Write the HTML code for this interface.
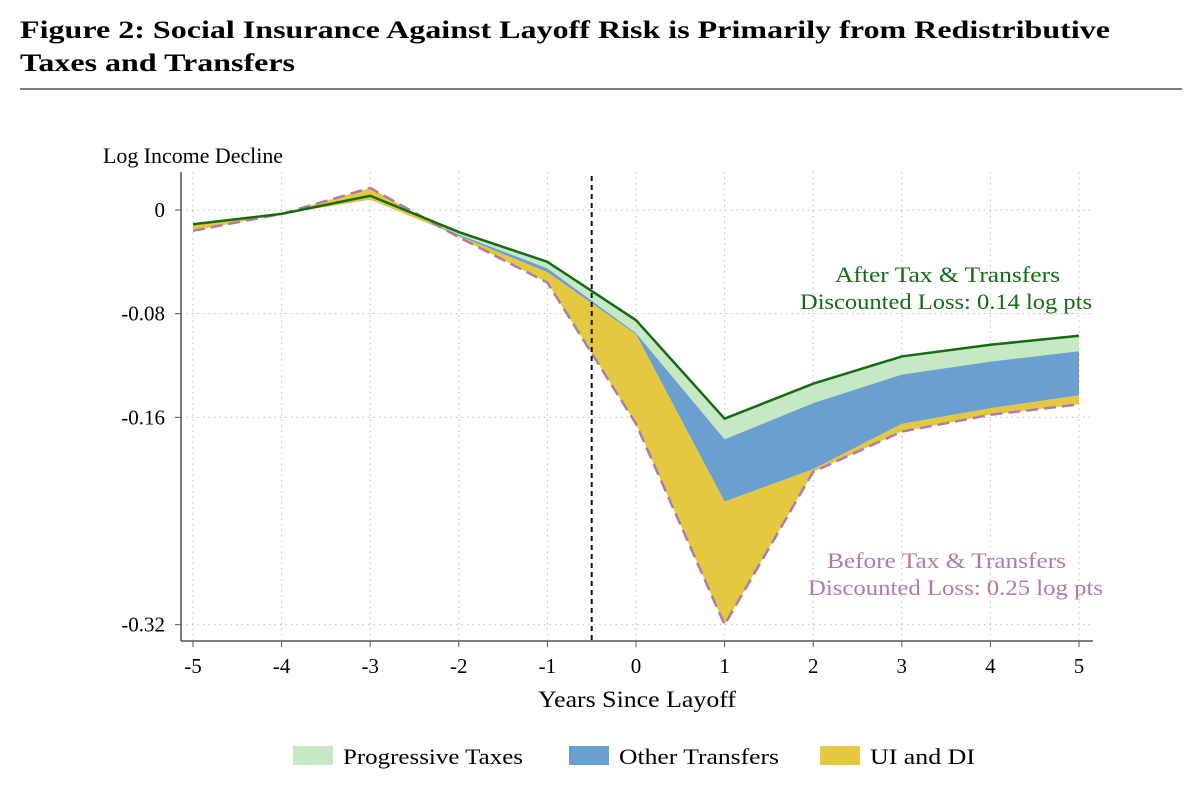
<!DOCTYPE html>
<html><head><meta charset="utf-8"><style>
body{margin:0;background:#fff;width:1200px;height:791px;overflow:hidden;font-family:"Liberation Serif",serif}
</style></head><body>
<svg width="1200" height="791" xmlns="http://www.w3.org/2000/svg">
<text x="20" y="38" font-size="25" font-weight="bold" font-family="Liberation Serif,serif" textLength="1090" lengthAdjust="spacingAndGlyphs">Figure 2: Social Insurance Against Layoff Risk is Primarily from Redistributive</text>
<text x="20" y="71" font-size="25" font-weight="bold" font-family="Liberation Serif,serif" textLength="275" lengthAdjust="spacingAndGlyphs">Taxes and Transfers</text>
<line x1="20" y1="89" x2="1182" y2="89" stroke="#555" stroke-width="1.5"/>
<g id="plot"></g>
</svg>
<script>
const years=[-5,-4,-3,-2,-1,0,1,2,3,4,5];
const afterTax=[-0.011,-0.003,0.011,-0.017,-0.040,-0.085,-0.161,-0.134,-0.113,-0.104,-0.097];
const progLower=[-0.011,-0.003,0.010,-0.019,-0.045,-0.095,-0.177,-0.149,-0.127,-0.117,-0.109];
const otherLower=[-0.011,-0.003,0.008,-0.020,-0.048,-0.096,-0.225,-0.200,-0.165,-0.153,-0.143];
const beforeTax=[-0.016,-0.003,0.017,-0.021,-0.056,-0.165,-0.320,-0.202,-0.171,-0.158,-0.150];
const yTicks=[0,-0.08,-0.16,-0.32];
const yTickLabels=["0","-0.08","-0.16","-0.32"];
const xTicks=[-5,-4,-3,-2,-1,0,1,2,3,4,5];

const NS="http://www.w3.org/2000/svg";
const g=document.getElementById('plot');
const X=v=>193+(v+5)*88.6;
const Y=v=>210-v*1296;
function el(t,a,p){const e=document.createElementNS(NS,t);for(const k in a)e.setAttribute(k,a[k]);(p||g).appendChild(e);return e;}
function txt(x,y,s,a){const e=el('text',Object.assign({x:x,y:y,'font-size':20,'font-family':'Liberation Serif,serif',lengthAdjust:'spacingAndGlyphs'},a||{}));e.textContent=s;return e;}
yTicks.forEach((v,i)=>{
 const l=el('line',{x1:181,x2:1092,y1:Y(v),y2:Y(v),stroke:'#bbb','stroke-dasharray':'1.5 4'});
 
 
 const t=txt(165,Y(v)+7,yTickLabels[i],{'text-anchor':'end','font-size':21});
 
 
 el('line',{x1:175,x2:181,y1:Y(v),y2:Y(v),stroke:'#555'});
});
xTicks.forEach(v=>{
 const l=el('line',{x1:X(v),x2:X(v),y1:172,y2:640,stroke:'#bbb','stroke-dasharray':'1.5 4'});
 
 
 el('line',{x1:X(v),x2:X(v),y1:641,y2:647,stroke:'#555'});
 const t=txt(X(v),673,String(v),{'text-anchor':'middle','font-size':21});
 
 
});
function band(top,bot,fill,name){
 let d='M'+years.map((y,i)=>X(y)+','+Y(top[i])).join('L');
 for(let i=years.length-1;i>=0;i--)d+='L'+X(years[i])+','+Y(bot[i]);
 const p=el('path',{d:d+'Z',fill:fill});
 
 
}
band(afterTax,progLower,'#c6e9c3','progressive-taxes-area');
band(progLower,otherLower,'#6a9fcf','other-transfers-area');
band(otherLower,beforeTax,'#e3c840','ui-di-area');
function line(vals,stroke,dash,name,w){
 const p=el('polyline',{points:years.map((y,i)=>X(y)+','+Y(vals[i])).join(' '),fill:'none',stroke:stroke,'stroke-width':w,'stroke-dasharray':dash});
 
 
}
line(beforeTax,'#b07aa8','12 6','before-tax-line',2.5);
line(afterTax,'#146b14','none','after-tax-line',2.5);
const vl=el('line',{x1:X(-0.5),x2:X(-0.5),y1:176,y2:640,stroke:'#111','stroke-width':2,'stroke-dasharray':'5 4'});


el('line',{x1:181,x2:181,y1:172,y2:641,stroke:'#555','stroke-width':1.5});
el('line',{x1:181,x2:1093,y1:641,y2:641,stroke:'#555','stroke-width':1.5});
let t=txt(103,163,'Log Income Decline',{'font-size':22,textLength:180});
t=txt(538,707,'Years Since Layoff',{'font-size':23,textLength:198});
t=txt(835,282,'After Tax & Transfers',{fill:'#146b14','font-size':22,textLength:225});
t=txt(800,309,'Discounted Loss: 0.14 log pts',{fill:'#146b14','font-size':22,textLength:292});
t=txt(827,568,'Before Tax & Transfers',{fill:'#b07aa8','font-size':22,textLength:239});
t=txt(808,595,'Discounted Loss: 0.25 log pts',{fill:'#b07aa8','font-size':22,textLength:295});
[[293,'#c6e9c3','Progressive Taxes',180],[569,'#6a9fcf','Other Transfers',160],[820,'#e3c840','UI and DI',105]].forEach(l=>{
 const r=el('rect',{x:l[0],y:746,width:40,height:19,fill:l[1]});
 
 
 const tt=txt(l[0]+50,764,l[2],{'font-size':22,textLength:l[3]});
 
 
});
</script>
</body></html>
